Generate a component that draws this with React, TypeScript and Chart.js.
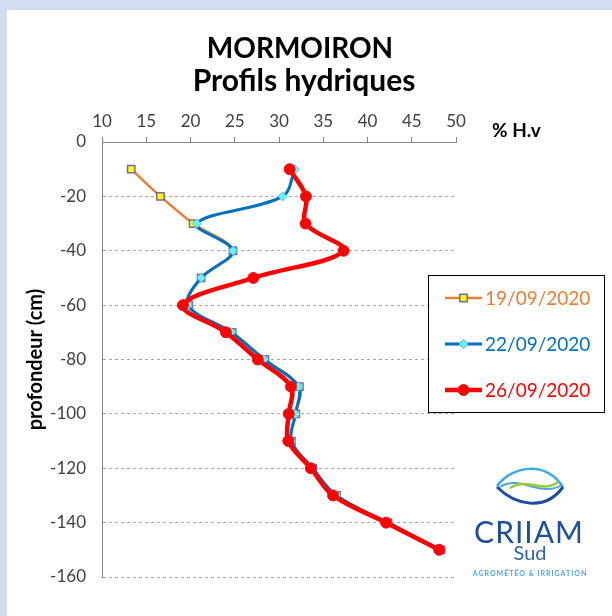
import React, { useEffect, useRef } from "react";
import { Chart, registerables } from "chart.js";

Chart.register(...registerables);

// ---- data ----
const depths = [-10, -20, -30, -40, -50, -60, -70, -80, -90, -100, -110, -120, -130, -140, -150];
const hv19 = [13.3, 16.6, 20.3, 24.8, 21.2, 19.8, 24.7, 28.4, 32.3, 31.9, 31.4, 33.8, 36.5, 42.3, 48.3];
const hv22 = [31.8, 30.4, 20.7, 24.8, 21.2, 19.7, 24.6, 28.3, 32.2, 31.85, 31.4, 33.8, 36.5, 42.3, 48.3];
const hv26 = [31.2, 33.05, 33.0, 37.3, 27.1, 19.15, 24.0, 27.6, 31.35, 31.1, 31.05, 33.6, 36.1, 42.1, 48.1];
const seriesLabels = ["19/09/2020", "22/09/2020", "26/09/2020"];
const titleLines = ["MORMOIRON", "Profils hydriques"];
const xAxisTitle = "% H.v";
const yAxisTitle = "profondeur (cm)";
const xMin = 10, xMax = 50, xStep = 5;
const yMin = -160, yMax = 0, yStep = 20;

const FONT = "Lato, 'Open Sans', sans-serif";
const ORANGE = "#ED7D31";
const BLUE = "#0070C0";
const RED = "#FF0000";

function drawMarker(ctx: CanvasRenderingContext2D, kind: number, x: number, y: number) {
  ctx.save();
  if (kind === 0) {
    ctx.fillStyle = "#FFFF00";
    ctx.strokeStyle = "#8064A2";
    ctx.lineWidth = 1.5;
    ctx.fillRect(x - 3.7, y - 3.7, 7.4, 7.4);
    ctx.strokeRect(x - 3.7, y - 3.7, 7.4, 7.4);
  } else if (kind === 1) {
    ctx.fillStyle = "#66F2FF";
    ctx.strokeStyle = "#4CC8E8";
    ctx.lineWidth = 1;
    ctx.beginPath();
    ctx.moveTo(x, y - 4.5);
    ctx.lineTo(x + 4.5, y);
    ctx.lineTo(x, y + 4.5);
    ctx.lineTo(x - 4.5, y);
    ctx.closePath();
    ctx.fill();
    ctx.stroke();
  } else {
    ctx.fillStyle = RED;
    ctx.strokeStyle = "#E81818";
    ctx.lineWidth = 1;
    ctx.beginPath();
    ctx.arc(x, y, 5.5, 0, Math.PI * 2);
    ctx.fill();
    ctx.stroke();
  }
  ctx.restore();
}

export default function App() {
  const ref = useRef<HTMLCanvasElement>(null);

  useEffect(() => {
    const pts = (xs: number[]) => xs.map((x, i) => ({ x, y: depths[i] }));

    const overlay = {
      id: "overlay",
      afterDraw(chart: any) {
        const ctx: CanvasRenderingContext2D = chart.ctx;
        const area = chart.chartArea;
        ctx.save();
        // titles
        ctx.fillStyle = "#000";
        ctx.textAlign = "center";
        ctx.textBaseline = "alphabetic";
        ctx.font = `bold 28px ${FONT}`;
        ctx.fillText(titleLines[0], 300, 58);
        ctx.font = `bold 30px ${FONT}`;
        ctx.fillText(titleLines[1], 304, 91);
        // x axis title
        ctx.textAlign = "left";
        ctx.textBaseline = "middle";
        ctx.font = `bold 19px ${FONT}`;
        ctx.fillText(xAxisTitle, area.right + 36, 131);
        // y axis title
        ctx.save();
        ctx.translate(36, (area.top + area.bottom) / 2);
        ctx.rotate(-Math.PI / 2);
        ctx.textAlign = "center";
        ctx.font = `bold 20px ${FONT}`;
        ctx.fillText(yAxisTitle, 0, 0);
        ctx.restore();
        // legend
        const lx = 428.5, ly = 275.5, lw = 176, lh = 137;
        ctx.fillStyle = "#fff";
        ctx.fillRect(lx, ly, lw, lh);
        ctx.strokeStyle = "#000";
        ctx.lineWidth = 1;
        ctx.strokeRect(lx, ly, lw, lh);
        const colors = [ORANGE, BLUE, RED];
        const widths = [2.5, 3, 4.5];
        ctx.font = `19px ${FONT}`;
        ctx.textBaseline = "middle";
        ctx.textAlign = "left";
        for (let i = 0; i < 3; i++) {
          const y = 298 + i * 46;
          ctx.strokeStyle = colors[i];
          ctx.lineWidth = widths[i];
          ctx.beginPath();
          ctx.moveTo(445, y);
          ctx.lineTo(482, y);
          ctx.stroke();
          drawMarker(ctx, i, 463.5, y);
          ctx.fillStyle = colors[i];
          ctx.fillText(seriesLabels[i], 485, y + 1);
        }
        ctx.restore();
      },
    };

    const chart = new Chart(ref.current!, {
      type: "scatter",
      data: {
        datasets: [
          {
            label: seriesLabels[0],
            data: pts(hv19),
            showLine: true,
            tension: 0.35,
            borderColor: ORANGE,
            borderWidth: 2.5,
            pointStyle: "rect",
            pointRadius: 5.2,
            pointBackgroundColor: "#FFFF00",
            pointBorderColor: "#8064A2",
            pointBorderWidth: 1.5,
            order: 2,
          },
          {
            label: seriesLabels[1],
            data: pts(hv22),
            showLine: true,
            tension: 0.35,
            borderColor: BLUE,
            borderWidth: 3,
            pointStyle: "rectRot",
            pointRadius: 4.5,
            pointBackgroundColor: "#66F2FF",
            pointBorderColor: "#4CC8E8",
            pointBorderWidth: 1,
            order: 1,
          },
          {
            label: seriesLabels[2],
            data: pts(hv26),
            showLine: true,
            tension: 0.35,
            borderColor: RED,
            borderWidth: 4.5,
            pointStyle: "circle",
            pointRadius: 5.5,
            pointBackgroundColor: RED,
            pointBorderColor: "#E81818",
            pointBorderWidth: 1,
            order: 0,
          },
        ],
      },
      options: {
        responsive: false,
        animation: false,
        devicePixelRatio: 1,
        clip: false as any,
        layout: { padding: { left: 0, right: 156, top: 0, bottom: 39 } },
        plugins: {
          legend: { display: false },
          title: { display: false },
          tooltip: { enabled: false },
        },
        scales: {
          x: {
            type: "linear",
            position: "top",
            min: xMin,
            max: xMax,
            ticks: {
              stepSize: xStep,
              font: { family: FONT, size: 17 },
              color: "#404040",
              padding: 5,
            },
            grid: {
              drawOnChartArea: false,
              drawTicks: true,
              tickLength: 5,
              color: "#868686",
            },
            border: { display: true, color: "#868686", width: 1 },
            afterFit: (s: any) => {
              s.height = 142;
            },
          },
          y: {
            type: "linear",
            min: yMin,
            max: yMax,
            ticks: {
              stepSize: yStep,
              font: { family: FONT, size: 17 },
              color: "#404040",
              padding: 16,
            },
            grid: {
              color: "#A6A6A6",
              drawTicks: false,
              lineWidth: 1,
            },
            border: { display: true, color: "#868686", width: 1, dash: [3, 3] },
            afterFit: (s: any) => {
              s.width = 102;
            },
          },
        },
      },
      plugins: [overlay],
    } as any);
    return () => chart.destroy();
  }, []);

  return (
    <div
      style={{
        position: "fixed",
        left: 0,
        top: 0,
        width: 612,
        height: 616,
        overflow: "hidden",
        background: "#D0DCF0",
      }}
    >
      <div style={{ position: "absolute", left: 7, top: 10, right: 0, bottom: 0, background: "#fff" }} />
      <canvas
        ref={ref}
        width={612}
        height={616}
        style={{ position: "absolute", left: 0, top: 0, width: 612, height: 616 }}
      />
      <svg
        width={612}
        height={616}
        style={{ position: "absolute", left: 0, top: 0, pointerEvents: "none" }}
      >
        <path d="M497,486 C512,466 545,460 563,487" fill="none" stroke="#3FA9E0" strokeWidth={2.5} />
        <path d="M497,487 C515,505 545,512 563,487" fill="none" stroke="#1D4F9C" strokeWidth={3} />
        <path d="M500,487 C520,474 540,498 562,485" fill="none" stroke="#4BA3DB" strokeWidth={2} />
        <path d="M510,488 C528,477 542,494 558,482" fill="none" stroke="#9CC93B" strokeWidth={2.5} />
      </svg>
      <div
        style={{
          position: "absolute",
          left: 470,
          width: 118,
          top: 514,
          textAlign: "center",
          fontFamily: FONT,
          fontSize: 30,
          lineHeight: "34px",
          color: "#1D4F9C",
          letterSpacing: 1,
        }}
      >
        CRIIAM
      </div>
      <div
        style={{
          position: "absolute",
          left: 470,
          width: 120,
          top: 540,
          textAlign: "center",
          fontFamily: FONT,
          fontSize: 20,
          lineHeight: "24px",
          color: "#2F63AD",
        }}
      >
        Sud
      </div>
      <div
        style={{
          position: "absolute",
          left: 470,
          width: 120,
          top: 568,
          textAlign: "center",
          fontFamily: FONT,
          fontSize: 7,
          fontWeight: "bold",
          lineHeight: "10px",
          color: "#4EA8DC",
          letterSpacing: 1,
        }}
      >
        AGROMÉTÉO &amp; IRRIGATION
      </div>
    </div>
  );
}
